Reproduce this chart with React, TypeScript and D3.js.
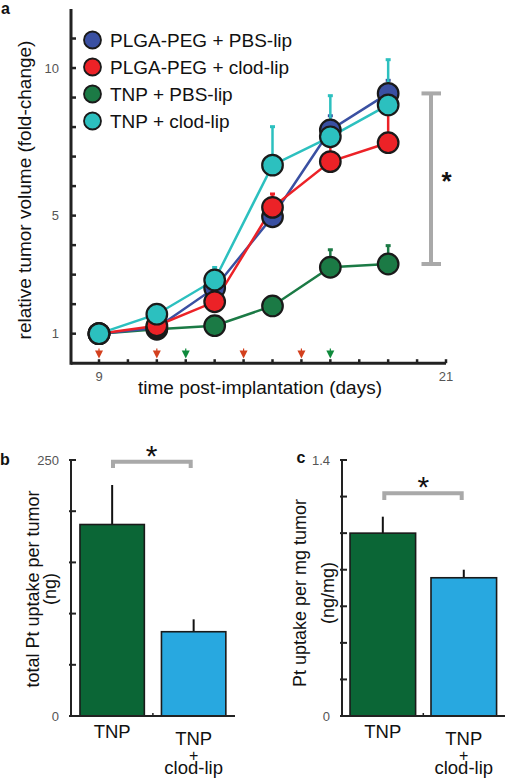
import React from "react";
import * as d3 from "d3";

// ---------- Panel a data ----------
const days = [9, 11, 13, 15, 17, 19];
const seriesNames = ["PLGA-PEG + PBS-lip", "PLGA-PEG + clod-lip", "TNP + PBS-lip", "TNP + clod-lip"];
const blueVals = [1, 1.2, 2.55, 4.96, 7.9, 9.14];
const redVals = [1, 1.27, 2.08, 5.28, 6.83, 7.47];
const greenVals = [1, 1.15, 1.27, 1.94, 3.25, 3.36];
const cyanVals = [1, 1.66, 2.82, 6.71, 7.67, 8.75];
// upper error bar ends (null = none)
const blueErrTop = [null, null, 2.8, 5.6, 8.4, 9.6];
const redErrTop = [null, null, 2.3, 5.75, 7.4, 8.5];
const greenErrTop = [null, null, null, null, 3.86, 4.0];
const cyanErrTop = [null, null, 3.26, 8.03, 9.08, 10.3];
const redDoseDays = [9, 11, 14, 16];
const greenDoseDays = [12, 17];
const xTickDays = d3.range(9, 22);
const yTicksA = d3.range(1, 12);
const yLabelsA = [1, 5, 10];

// ---------- Panel b / c data ----------
const barCats = ["TNP", "TNP + clod-lip"];
const bVals = [187, 82.3];
const bErr = [38.6, 12.1];
const bTicks = [0, 50, 100, 150, 200, 250];
const bLabels = [0, 250];
const cVals = [1.0, 0.756];
const cErr = [0.09, 0.044];
const cTicks = [0, 0.2, 0.4, 0.6, 0.8, 1.0, 1.2, 1.4];
const cLabels = [0, 1.4];

const FONT = "'Liberation Sans', Arial, Helvetica, sans-serif";
const COLORS = ["#3a50a2", "#ec2227", "#1b7a45", "#2cc0bf"];
const BAR_COLORS = ["#0b6636", "#28a8e0"];
const GRAY = "#a9a9a9";
const AXIS = "#222";

export default function App() {
  const xA = d3.scaleLinear().domain([9, 21]).range([99, 446]);
  const yA = d3.scaleLinear().domain([0, 12]).range([363.2, 9]);
  const line = d3
    .line<[number, number]>()
    .x((d) => xA(d[0]))
    .y((d) => yA(d[1]));

  const series = [
    { name: seriesNames[0], vals: blueVals, err: blueErrTop, color: COLORS[0] },
    { name: seriesNames[1], vals: redVals, err: redErrTop, color: COLORS[1] },
    { name: seriesNames[2], vals: greenVals, err: greenErrTop, color: COLORS[2] },
    { name: seriesNames[3], vals: cyanVals, err: cyanErrTop, color: COLORS[3] },
  ];
  const drawOrder = [2, 0, 1, 3];
  const topLast = d3.max(series, (s) => s.vals[5])!;

  const xB = d3.scaleBand().domain(barCats).range([71, 234.8]).paddingInner(0.21).paddingOuter(0.11);
  const yB = d3.scaleLinear().domain([0, 250]).range([716, 460]);
  const xC = d3.scaleBand().domain(barCats).range([342, 504.6]).paddingInner(0.19).paddingOuter(0.099);
  const yC = d3.scaleLinear().domain([0, 1.4]).range([716, 460]);

  const tri = (x: number, color: string, key: string) => (
    <g key={key}>
      <line x1={x} x2={x} y1={348.5} y2={354} stroke={color} strokeWidth={1.2} />
      <path d={`M${x - 4},${350.5} L${x + 4},${350.5} L${x},${358.5} Z`} fill={color} />
    </g>
  );

  const barPanel = (
    xs: d3.ScaleBand<string>,
    ys: d3.ScaleLinear<number, number>,
    vals: number[],
    errs: number[],
    ticks: number[],
    labels: number[],
    fmt: (v: number) => string,
    axisX: number,
    axisEnd: number,
    key: string
  ) => (
    <g key={key}>
      {barCats.map((c, i) => (
        <g key={c}>
          <line
            x1={xs(c)! + xs.bandwidth() / 2}
            x2={xs(c)! + xs.bandwidth() / 2}
            y1={ys(vals[i])}
            y2={ys(vals[i] + errs[i])}
            stroke="#111"
            strokeWidth={2}
          />
          <rect
            x={xs(c)!}
            y={ys(vals[i])}
            width={xs.bandwidth()}
            height={ys(0) - ys(vals[i])}
            fill={BAR_COLORS[i]}
            stroke="#1a1a1a"
            strokeWidth={1.6}
          />
        </g>
      ))}
      <line x1={axisX} x2={axisX} y1={ys(ticks[ticks.length - 1])} y2={ys(0)} stroke={AXIS} strokeWidth={2} />
      <line x1={axisX} x2={axisEnd} y1={ys(0)} y2={ys(0)} stroke={AXIS} strokeWidth={2} />
      {ticks.map((t) => (
        <line key={t} x1={axisX - 2} x2={axisX + 5} y1={ys(t)} y2={ys(t)} stroke={AXIS} strokeWidth={2} />
      ))}
      <line
        x1={(xs(barCats[0])! + xs.bandwidth() + xs(barCats[1])!) / 2}
        x2={(xs(barCats[0])! + xs.bandwidth() + xs(barCats[1])!) / 2}
        y1={ys(0) - 3}
        y2={ys(0)}
        stroke={AXIS}
        strokeWidth={1.5}
      />
      {labels.map((t) => (
        <text key={t} x={axisX - 12} y={ys(t) + 4.5} textAnchor="end" fontSize={13} fill="#555" fontFamily={FONT}>
          {fmt(t)}
        </text>
      ))}
    </g>
  );

  const catLabels = (xs: d3.ScaleBand<string>, key: string) => {
    const c0 = xs(barCats[0])! + xs.bandwidth() / 2;
    const c1 = xs(barCats[1])! + xs.bandwidth() / 2;
    return (
      <g key={key} fontSize={18.5} fill="#111" textAnchor="middle">
        <text x={c0} y={738}>{barCats[0]}</text>
        <text x={c1} y={745}>TNP</text>
        <text x={c1} y={761} fontSize={16}>+</text>
        <text x={c1} y={774}>clod-lip</text>
      </g>
    );
  };

  return (
    <svg
      width={506}
      height={778}
      style={{ position: "absolute", left: 0, top: 0, background: "#fff" }}
      fontFamily={FONT}
    >
      <rect width={506} height={778} fill="#fff" />
      {/* ---------------- Panel a ---------------- */}
      <text x={1} y={14} fontSize={16} fontWeight="bold" fill="#111">a</text>
      <line x1={71} x2={71} y1={yA(12)} y2={yA(0) + 1.5} stroke={AXIS} strokeWidth={3} />
      <line x1={71} x2={xA(21)} y1={yA(0)} y2={yA(0)} stroke={AXIS} strokeWidth={3} />
      {yTicksA.map((t) => (
        <line key={t} x1={71} x2={76} y1={yA(t)} y2={yA(t)} stroke={AXIS} strokeWidth={2.5} />
      ))}
      {xTickDays.map((t) => (
        <line key={t} x1={xA(t)} x2={xA(t)} y1={yA(0) - 4} y2={yA(0)} stroke={AXIS} strokeWidth={2.5} />
      ))}
      {yLabelsA.map((t) => (
        <text key={t} x={59} y={yA(t) + 4.5} textAnchor="end" fontSize={13} fill="#555">{t}</text>
      ))}
      {[9, 21].map((t) => (
        <text key={t} x={xA(t)} y={381} textAnchor="middle" fontSize={13} fill="#555">{t}</text>
      ))}
      <text x={260} y={394} textAnchor="middle" fontSize={19} fill="#111">time post-implantation (days)</text>
      <text transform="translate(31,190) rotate(-90)" textAnchor="middle" fontSize={19} fill="#111">
        relative tumor volume (fold-change)
      </text>

      {redDoseDays.map((d) => tri(xA(d), "#d3401e", "r" + d))}
      {greenDoseDays.map((d) => tri(xA(d), "#0f8a3c", "g" + d))}

      {drawOrder.map((si) => {
        const s = series[si];
        return (
          <path
            key={"l" + si}
            d={line(days.map((d, i) => [d, s.vals[i]] as [number, number]))!}
            fill="none"
            stroke={s.color}
            strokeWidth={2.5}
          />
        );
      })}
      {drawOrder.map((si) => {
        const s = series[si];
        return (
          <g key={"e" + si}>
            {days.map((d, i) =>
              s.err[i] == null ? null : (
                <g key={d}>
                  <line x1={xA(d)} x2={xA(d)} y1={yA(s.vals[i])} y2={yA(s.err[i] as number)} stroke={s.color} strokeWidth={2.5} />
                  <rect x={xA(d) - 2.5} y={yA(s.err[i] as number) - 1} width={5} height={3} fill={s.color} />
                </g>
              )
            )}
          </g>
        );
      })}
      {drawOrder.map((si) => {
        const s = series[si];
        return (
          <g key={"m" + si}>
            {days.map((d, i) => (
              <circle key={d} cx={xA(d)} cy={yA(s.vals[i])} r={10.3} fill={s.color} stroke="#1a1a1a" strokeWidth={2.2} />
            ))}
          </g>
        );
      })}
      {series.map((s, i) => (
        <g key={"lg" + i}>
          <circle cx={92.5} cy={40 + i * 27} r={8.5} fill={s.color} stroke="#1a1a1a" strokeWidth={1.8} />
          <text x={110} y={46.8 + i * 27} fontSize={19} fill="#111">{s.name}</text>
        </g>
      ))}
      <g stroke={GRAY} strokeWidth={4}>
        <line x1={431} x2={431} y1={yA(topLast)} y2={yA(greenVals[5])} />
        <line x1={421.5} x2={441} y1={yA(topLast)} y2={yA(topLast)} />
        <line x1={421.5} x2={441} y1={yA(greenVals[5])} y2={yA(greenVals[5])} />
      </g>
      <text x={446.5} y={190} textAnchor="middle" fontSize={26} fontWeight="bold" fill="#111">*</text>

      {/* ---------------- Panel b ---------------- */}
      <text x={0} y={465} fontSize={16} fontWeight="bold" fill="#111">b</text>
      {barPanel(xB, yB, bVals, bErr, bTicks, bLabels, (v) => String(v), 71, 235, "pb")}
      <path d="M113,468 L113,461.7 L190.7,461.7 L190.7,468" fill="none" stroke={GRAY} strokeWidth={4} />
      <text x={151.7} y={465.5} textAnchor="middle" fontSize={30} fill="#111">*</text>
      <text transform="translate(38.5,589) rotate(-90)" textAnchor="middle" fontSize={18} fill="#111">
        total Pt uptake per tumor
      </text>
      <text transform="translate(56,589) rotate(-90)" textAnchor="middle" fontSize={18} fill="#111">(ng)</text>
      {catLabels(xB, "lb")}

      {/* ---------------- Panel c ---------------- */}
      <text x={296.5} y={463} fontSize={16} fontWeight="bold" fill="#111">c</text>
      {barPanel(xC, yC, cVals, cErr, cTicks, cLabels, (v) => (v === 0 ? "0" : v.toFixed(1)), 342, 505, "pc")}
      <path d="M384.3,500 L384.3,493.3 L461.7,493.3 L461.7,500" fill="none" stroke={GRAY} strokeWidth={4} />
      <text x={423.3} y={497} textAnchor="middle" fontSize={30} fill="#111">*</text>
      <text transform="translate(306,593) rotate(-90)" textAnchor="middle" fontSize={18} fill="#111">
        Pt uptake per mg tumor
      </text>
      <text transform="translate(334,593) rotate(-90)" textAnchor="middle" fontSize={18} fill="#111">(ng/mg)</text>
      {catLabels(xC, "lc")}
    </svg>
  );
}
